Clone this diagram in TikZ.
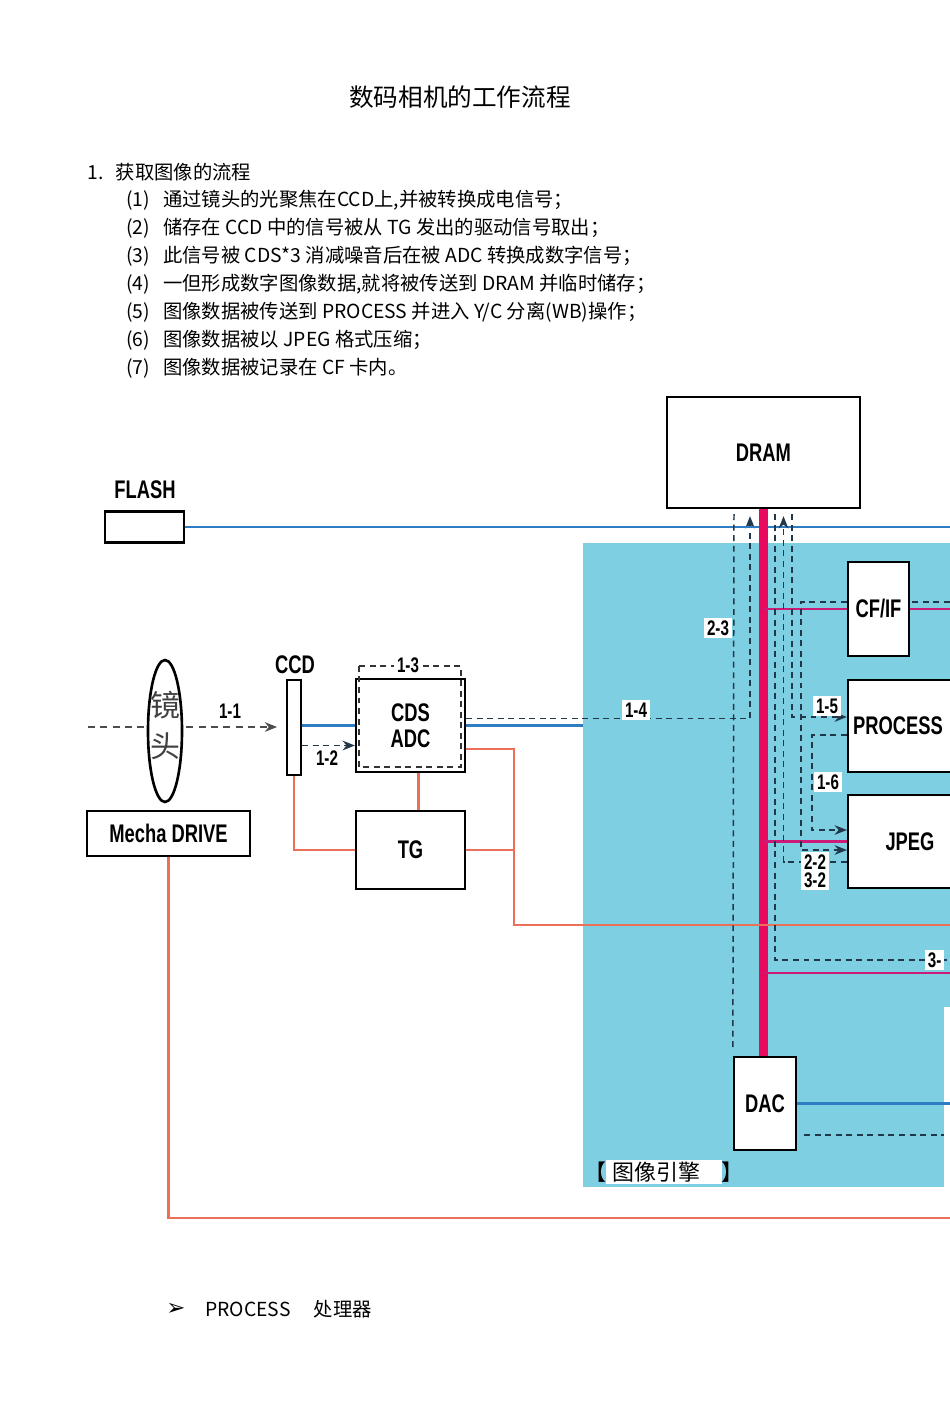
\documentclass[tikz,border=0pt]{standalone}
\usepackage{fontspec}
\setmainfont{Noto Sans CJK SC}
\newfontfamily\lblfont[FakeStretch=0.72]{Liberation Sans}
\newfontfamily\symfont{DejaVu Sans}
\usetikzlibrary{shapes.geometric,calc,arrows.meta}

\definecolor{enginebg}{RGB}{127,207,226}
\definecolor{lineblue}{RGB}{46,125,195}
\definecolor{ctlorange}{RGB}{236,112,88}
\definecolor{buspink}{RGB}{232,10,95}
\definecolor{datamag}{RGB}{205,25,120}
\definecolor{flowgray}{RGB}{35,55,75}
\setlength{\fboxsep}{1pt}

\begin{document}
\begin{tikzpicture}[
    x=0.02cm,
    y=-0.02cm,
    >={Stealth[length=7pt,width=5.5pt]},
    font=\fontsize{11}{13}\selectfont,
    block/.style={
        draw,
        line width=1.3pt,
        fill=white,
        inner sep=0pt,
        align=center,
        font=\lblfont\bfseries\fontsize{14.5}{15}\selectfont
    },
    boxlabel/.style={
        inner sep=1pt,
        font=\lblfont\bfseries\fontsize{14.5}{15}\selectfont
    },
    steplabel/.style={
        fill=white,
        inner sep=1.5pt,
        align=center,
        font=\lblfont\bfseries\fontsize{12}{10.5}\selectfont
    },
    listline/.style={
        anchor=west,
        inner sep=0pt
    },
    flow/.style={
        draw=flowgray,
        line width=0.85pt,
        dash pattern=on 3.4pt off 2.6pt
    },
    ray/.style={
        draw=black!70,
        line width=0.8pt,
        dash pattern=on 4pt off 3pt
    },
    bus/.style={draw=buspink, line width=5pt},
    datal/.style={draw=datamag, line width=1.4pt},
    ctl/.style={draw=ctlorange, line width=1.2pt},
    video/.style={draw=lineblue, line width=1.3pt}
]
    \useasboundingbox (0,0) rectangle (950,1414);
    \clip (0,0) rectangle (950,1414);
    \fill[white] (0,0) rectangle (950,1414);

    % text above the diagram
    \node (title) at (460,97) {\fontsize{14}{16}\selectfont 数码相机的工作流程};
    \node[listline] (heading) at (87,172) {1.\hspace{7pt}获取图像的流程};
    \node[listline] (step1) at (126,200)
        {\makebox[21pt][l]{(1)}通过镜头的光聚焦在CCD上,并被转换成电信号；};
    \node[listline] (step2) at (126,228)
        {\makebox[21pt][l]{(2)}储存在 CCD 中的信号被从 TG 发出的驱动信号取出；};
    \node[listline] (step3) at (126,256)
        {\makebox[21pt][l]{(3)}此信号被 CDS*3 消减噪音后在被 ADC 转换成数字信号；};
    \node[listline] (step4) at (126,284)
        {\makebox[21pt][l]{(4)}一但形成数字图像数据,就将被传送到 DRAM 并临时储存；};
    \node[listline] (step5) at (126,312)
        {\makebox[21pt][l]{(5)}图像数据被传送到 PROCESS 并进入 Y/C 分离(WB)操作；};
    \node[listline] (step6) at (126,340)
        {\makebox[21pt][l]{(6)}图像数据被以 JPEG 格式压缩；};
    \node[listline] (step7) at (126,368)
        {\makebox[21pt][l]{(7)}图像数据被记录在 CF 卡内。};

    % image engine area
    \node[fill=enginebg, inner sep=0pt, minimum width=8.34cm, minimum height=12.88cm]
        (engine) at (791.5,865) {};
    \node[fill=white, inner sep=0pt, minimum width=2cm, minimum height=3.66cm]
        (monitor) at (994,1098.5) {};

    % blocks
    \node[block, minimum width=3.86cm, minimum height=2.22cm] (dram) at (763.5,452.5) {DRAM};
    \node[block, minimum width=1.58cm, minimum height=0.62cm] (flash) at (144.5,527) {};
    \node[boxlabel] (flashlbl) at (145,490) {FLASH};
    \node[block, minimum width=1.22cm, minimum height=1.88cm] (cfif) at (878.5,609) {CF/IF};
    \node[block, minimum width=2.48cm, minimum height=1.84cm] (process) at (910,726) {};
    \node[boxlabel] (proclbl) at (898,726) {PROCESS};
    \node[block, minimum width=2.48cm, minimum height=1.86cm] (jpeg) at (910,841.5) {JPEG};
    \node[block, minimum width=1.24cm, minimum height=1.86cm] (dac) at (765,1103.5) {DAC};
    \node[block, minimum width=2.18cm, minimum height=1.86cm] (cds) at (410.5,725.5) {CDS\\ADC};
    \node[block, minimum width=2.18cm, minimum height=1.56cm] (tg) at (410.5,850) {TG};
    \node[block, minimum width=3.26cm, minimum height=0.9cm] (mecha) at (168.5,833.5) {Mecha DRIVE};
    \node[block, minimum width=0.28cm, minimum height=1.9cm] (ccd) at (294,727.5) {};
    \node[boxlabel] (ccdlbl) at (295,665) {CCD};

    % light through the lens
    \coordinate (raystart) at (88,727);
    \draw[ray,->,shorten >=5pt] (raystart) -- (ccd.west |- raystart);
    \node[draw, ellipse, line width=1.5pt, fill=white, inner sep=0pt,
          minimum width=0.68cm, minimum height=2.84cm] (lens) at (165,731) {};
    \node[text=black!75, font=\fontsize{17}{17}\selectfont] (lensa) at (165,705) {镜};
    \node[text=black!75, font=\fontsize{17}{17}\selectfont] (lensb) at (165,746) {头};

    % ccd -> cds
    \draw[video] (ccd.east |- cds.west) -- (cds.west);
    \draw[flow,->] ($(ccd.east)+(0,18)$) -- ($(cds.west)+(0,20)$);
    \draw[flow, draw=black!80] ($(cds.north west)+(4,-12)$) rectangle ($(cds.south east)+(-5,-6)$);
    \draw[video] (cds.east) -- (cds.east -| engine.west);
    \draw[flow,->,shorten >=4pt] ($(cds.east)+(0,-7)$) -| ($(dram.south)+(-13.5,0)$);

    % timing / control lines
    \draw[ctl] (ccd.south) |- (tg.west);
    \draw[ctl] ($(cds.south)+(8,0)$) -- ($(tg.north)+(8,0)$);
    \coordinate (ctlbend) at (514,925);
    \coordinate (ctlend) at (950,925);
    \draw[ctl] (tg.east) -- (tg.east -| ctlbend);
    \coordinate (mechaend) at (950,1218);
    \draw[ctl] (mecha.south) |- (mechaend);

    % flash
    \coordinate (flashend) at (950,527);
    \draw[video] (flash.east) -- (flashend);

    % data bus
    \draw[bus] (dram.south) -- (dram.south |- dac.north);
    \coordinate (cfend) at (950,609);
    \draw[datal] (dram.south |- cfif.west) -- (cfif.west);
    \draw[datal] (cfif.east) -- (cfend);
    \draw[datal] (dram.south |- jpeg.west) -- (jpeg.west);
    \coordinate (lcdend) at (950,973);
    \draw[datal] (dram.south |- lcdend) -- (lcdend);
    \draw[ctl] ($(cds.east)+(0,23.5)$) -| (ctlbend) -- (ctlend);

    % dac
    \coordinate (dacend) at (950,1103.5);
    \draw[video] (dac.east) -- (dacend);
    \draw[flow] ($(dac.east)+(7,31.5)$) -- ($(dac.east -| monitor.west)+(0,31.5)$);

    % image data flows
    \draw[flow] ($(dram.south)+(-29.5,5)$) -- ($(dac.north west)+(0,-7)$);
    \coordinate (playend) at (950,960);
    \draw[flow] ($(dram.south)+(11.5,5)$) |- (playend);
    \draw[flow,->,shorten >=4pt] ($(jpeg.west)+(0,20.5)$) -| ($(dram.south)+(20,0)$);
    \draw[flow,->] ($(dram.south)+(28.5,5)$) |- ($(process.west)+(0,-9)$);
    \coordinate (cfdashend) at (950,602);
    \draw[flow] (cfdashend) -- (cfif.east |- cfdashend);
    \draw[flow,->] (cfif.west |- cfdashend) -- ++(-46,0) |- ($(jpeg.west)+(0,8.5)$);
    \draw[flow,->] ($(process.west)+(0,9)$) -- ++(-35,0) |- ($(jpeg.west)+(0,-11.5)$);

    % step labels
    \node[steplabel] (s11) at (230,711) {1-1};
    \node[steplabel] (s12) at (327,758) {1-2};
    \node[steplabel] (s13) at (408,665) {1-3};
    \node[steplabel] (s14) at (636,710) {1-4};
    \node[steplabel] (s23) at (718,628) {2-3};
    \node[steplabel] (s15) at (827,706) {1-5};
    \node[steplabel] (s16) at (828,782) {1-6};
    \node[steplabel] (s22) at (815,871) {2-2\\3-2};
    \node[steplabel, anchor=west] (s3x) at (925,960) {3-};

    \node[listline, font=\fontsize{12.5}{14}\selectfont] (enginelbl) at (584,1172)
        {【\colorbox{white}{\hspace{0.2em}图像引擎\hspace{0.9em}}】};

    % note below the diagram
    \node[listline] (bullet) at (166,1309) {\symfont\fontsize{13}{13}\selectfont ➢};
    \node[listline] (procnote) at (205,1309) {PROCESS\hspace{1.2em}处理器};
\end{tikzpicture}
\end{document}
